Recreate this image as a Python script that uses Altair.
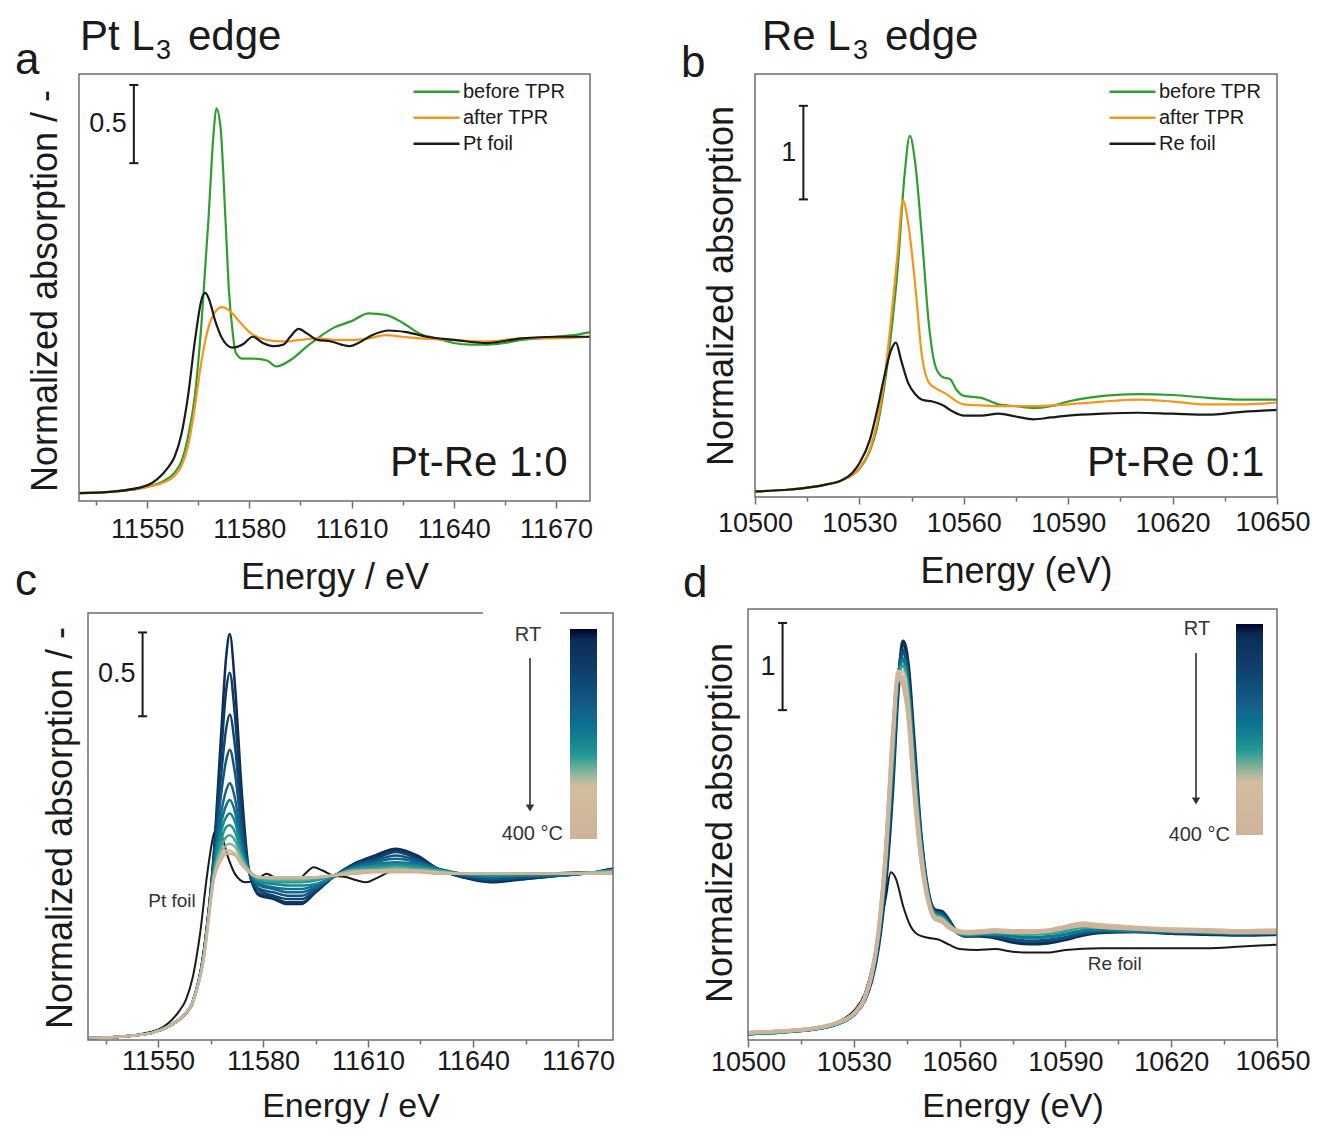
import altair as alt
import pandas as pd

FONT = "Liberation Sans"
INK = "#1a1a1a"
FRAME = "#6e6e6e"
W, H = 1303, 1119

# ------------------------------------------------------------------ data
# (a) Pt L3 edge, Pt-Re 1:0
a_before_E = [11530, 11540, 11550, 11555, 11558, 11560, 11562, 11564, 11566, 11568,
              11569.5, 11570.3, 11571.5, 11573, 11574, 11575, 11576, 11578, 11581, 11585,
              11588, 11592, 11597, 11600, 11605, 11610, 11615, 11620, 11625, 11630,
              11635, 11640, 11645, 11650, 11655, 11660, 11665, 11670, 11675, 11680]
a_before_A = [0.00, 0.01, 0.04, 0.08, 0.13, 0.20, 0.36, 0.62, 1.10, 1.75,
              2.30, 2.46, 2.35, 1.75, 1.30, 1.05, 0.90, 0.86, 0.86, 0.85,
              0.81, 0.85, 0.94, 0.99, 1.06, 1.10, 1.15, 1.14, 1.09, 1.02,
              0.99, 0.96, 0.95, 0.95, 0.96, 0.98, 0.99, 1.00, 1.01, 1.03]
a_after_E = [11530, 11540, 11550, 11555, 11558, 11560, 11562, 11564, 11566, 11568,
             11570, 11572, 11574, 11577, 11580, 11585, 11590, 11595, 11600, 11605,
             11610, 11615, 11620, 11625, 11630, 11640, 11650, 11660, 11670, 11680]
a_after_A = [0.00, 0.01, 0.04, 0.07, 0.11, 0.17, 0.30, 0.55, 0.85, 1.06,
             1.16, 1.19, 1.17, 1.10, 1.03, 0.98, 0.97, 0.98, 0.99, 0.98,
             0.98, 0.99, 1.01, 1.00, 0.99, 0.98, 0.97, 0.99, 0.99, 1.00]
a_foil_E = [11530, 11540, 11550, 11553, 11556, 11558, 11560, 11562, 11564, 11566,
            11567, 11568, 11570, 11572, 11575, 11578, 11581, 11584, 11587, 11590,
            11592, 11594.5, 11597, 11600, 11604, 11607, 11609.5, 11612, 11616, 11621,
            11626, 11632, 11640, 11650, 11660, 11670, 11680]
a_foil_A = [0.00, 0.01, 0.05, 0.09, 0.16, 0.23, 0.37, 0.62, 0.97, 1.24,
            1.28, 1.25, 1.10, 0.99, 0.93, 0.95, 1.00, 0.96, 0.94, 0.95,
            1.00, 1.05, 1.02, 0.98, 0.97, 0.95, 0.94, 0.96, 1.01, 1.04,
            1.03, 1.00, 0.98, 0.96, 0.99, 1.00, 1.00]

# (b) Re L3 edge, Pt-Re 0:1
b_before_E = [10500, 10510, 10520, 10525, 10530, 10533, 10535, 10537, 10539, 10541,
              10543, 10544.5, 10546, 10548, 10550, 10552, 10554, 10556, 10558, 10560,
              10565, 10570, 10575, 10580, 10585, 10590, 10600, 10610, 10620, 10630,
              10640, 10650]
b_before_A = [0.00, 0.02, 0.07, 0.12, 0.24, 0.43, 0.67, 1.08, 1.65, 2.38,
              3.39, 3.80, 3.52, 2.70, 1.77, 1.32, 1.22, 1.20, 1.08, 1.02,
              1.00, 0.93, 0.91, 0.89, 0.91, 0.96, 1.02, 1.04, 1.03, 1.00,
              0.98, 0.98]
b_after_E = [10500, 10510, 10520, 10525, 10530, 10533, 10535, 10537, 10539, 10541,
             10542.5, 10544, 10546, 10548, 10550, 10552, 10555, 10558, 10560, 10565,
             10570, 10575, 10580, 10590, 10600, 10610, 10620, 10630, 10640, 10650]
b_after_A = [0.00, 0.02, 0.07, 0.12, 0.25, 0.45, 0.72, 1.15, 1.80, 2.55,
             3.11, 2.87, 2.22, 1.44, 1.16, 1.10, 1.04, 0.96, 0.93, 0.92,
             0.91, 0.91, 0.91, 0.93, 0.96, 0.98, 0.96, 0.93, 0.93, 0.95]
b_foil_E = [10500, 10510, 10520, 10525, 10528, 10530, 10533, 10535, 10537, 10539,
            10540.5, 10542, 10544, 10546, 10548, 10551, 10554, 10557, 10560, 10565,
            10570, 10575, 10580, 10585, 10590, 10600, 10610, 10620, 10630, 10640,
            10650]
b_foil_A = [0.00, 0.02, 0.07, 0.12, 0.20, 0.30, 0.55, 0.85, 1.20, 1.50,
            1.59, 1.40, 1.16, 1.04, 0.98, 0.96, 0.92, 0.85, 0.81, 0.81,
            0.83, 0.80, 0.77, 0.79, 0.81, 0.83, 0.84, 0.83, 0.82, 0.85,
            0.87]

# (c) Pt L3 edge during TPR, RT -> 400 C
c_E = [11530, 11540, 11548, 11553, 11557, 11560, 11563, 11566, 11568, 11569.5,
       11570.5, 11572, 11574, 11576, 11579, 11583, 11587, 11591, 11595, 11600,
       11606, 11612, 11618, 11624, 11630, 11637, 11645, 11655, 11665, 11675,
       11680]
c_T = [25, 60, 95, 130, 160, 190, 215, 235, 255, 275, 330, 400]
c_curves = [
    [0.00, 0.01, 0.03, 0.07, 0.13, 0.22, 0.50, 1.12, 1.80, 2.28, 2.41, 2.10, 1.45, 1.00, 0.85, 0.83, 0.80, 0.80, 0.87, 0.96, 1.04, 1.09, 1.13, 1.09, 1.01, 0.96, 0.93, 0.95, 0.97, 0.99, 1.01],
    [0.00, 0.01, 0.03, 0.07, 0.13, 0.22, 0.50, 1.10, 1.68, 2.08, 2.18, 1.92, 1.36, 0.99, 0.86, 0.84, 0.81, 0.81, 0.87, 0.96, 1.04, 1.08, 1.12, 1.08, 1.01, 0.96, 0.94, 0.95, 0.97, 0.99, 1.01],
    [0.00, 0.01, 0.03, 0.07, 0.13, 0.22, 0.50, 1.08, 1.56, 1.85, 1.93, 1.74, 1.28, 0.99, 0.88, 0.85, 0.83, 0.83, 0.88, 0.96, 1.03, 1.07, 1.11, 1.07, 1.01, 0.97, 0.94, 0.96, 0.97, 0.99, 1.01],
    [0.00, 0.01, 0.03, 0.07, 0.13, 0.22, 0.50, 1.06, 1.45, 1.66, 1.72, 1.58, 1.22, 1.00, 0.89, 0.87, 0.85, 0.85, 0.89, 0.96, 1.03, 1.06, 1.09, 1.06, 1.01, 0.97, 0.95, 0.96, 0.97, 0.99, 1.00],
    [0.00, 0.01, 0.03, 0.07, 0.13, 0.22, 0.49, 1.04, 1.34, 1.48, 1.52, 1.43, 1.16, 1.00, 0.91, 0.89, 0.87, 0.87, 0.90, 0.96, 1.02, 1.05, 1.07, 1.05, 1.01, 0.97, 0.96, 0.97, 0.97, 0.99, 1.00],
    [0.00, 0.01, 0.03, 0.07, 0.13, 0.22, 0.49, 1.02, 1.28, 1.39, 1.42, 1.35, 1.13, 1.00, 0.92, 0.90, 0.89, 0.89, 0.91, 0.96, 1.02, 1.04, 1.05, 1.04, 1.01, 0.98, 0.96, 0.97, 0.97, 0.99, 1.00],
    [0.00, 0.01, 0.03, 0.07, 0.13, 0.22, 0.49, 1.01, 1.23, 1.32, 1.34, 1.29, 1.11, 1.00, 0.93, 0.92, 0.91, 0.91, 0.92, 0.96, 1.01, 1.03, 1.04, 1.03, 1.00, 0.98, 0.97, 0.97, 0.98, 0.99, 1.00],
    [0.00, 0.01, 0.03, 0.07, 0.13, 0.22, 0.48, 0.99, 1.18, 1.26, 1.27, 1.23, 1.09, 1.00, 0.94, 0.93, 0.93, 0.93, 0.94, 0.97, 1.01, 1.02, 1.03, 1.02, 1.00, 0.98, 0.97, 0.98, 0.98, 0.99, 1.00],
    [0.00, 0.01, 0.03, 0.07, 0.13, 0.22, 0.48, 0.98, 1.14, 1.20, 1.21, 1.18, 1.07, 1.00, 0.95, 0.94, 0.94, 0.94, 0.95, 0.97, 1.00, 1.01, 1.02, 1.01, 1.00, 0.98, 0.98, 0.98, 0.98, 0.99, 1.00],
    [0.00, 0.01, 0.03, 0.07, 0.13, 0.22, 0.47, 0.97, 1.11, 1.15, 1.16, 1.14, 1.06, 1.00, 0.96, 0.95, 0.95, 0.95, 0.96, 0.97, 1.00, 1.00, 1.01, 1.00, 0.99, 0.98, 0.98, 0.98, 0.98, 0.99, 0.99],
    [0.00, 0.01, 0.03, 0.07, 0.13, 0.22, 0.47, 0.96, 1.08, 1.12, 1.12, 1.10, 1.04, 0.99, 0.96, 0.96, 0.96, 0.96, 0.96, 0.97, 0.99, 1.00, 1.00, 1.00, 0.99, 0.98, 0.98, 0.98, 0.98, 0.98, 0.99],
    [0.00, 0.01, 0.03, 0.07, 0.13, 0.22, 0.46, 0.95, 1.06, 1.10, 1.10, 1.09, 1.03, 0.99, 0.96, 0.96, 0.96, 0.96, 0.96, 0.97, 0.98, 0.99, 0.99, 0.99, 0.98, 0.98, 0.98, 0.98, 0.98, 0.98, 0.98],
]
c_foil_E = [11530, 11540, 11550, 11553, 11556, 11558, 11560, 11562, 11564, 11566,
            11567, 11568, 11570, 11572, 11575, 11578, 11581, 11584, 11587, 11590,
            11592, 11594.5, 11597, 11600, 11604, 11607, 11609.5, 11612, 11616, 11621,
            11626, 11632, 11640, 11650, 11660, 11670, 11680]
c_foil_A = [0.00, 0.01, 0.05, 0.09, 0.16, 0.23, 0.37, 0.62, 0.97, 1.22,
            1.25, 1.22, 1.08, 0.98, 0.93, 0.94, 0.98, 0.95, 0.93, 0.94,
            0.98, 1.02, 1.00, 0.97, 0.96, 0.94, 0.93, 0.95, 0.99, 1.02,
            1.01, 0.99, 0.97, 0.96, 0.98, 0.99, 0.99]

# (d) Re L3 edge during TPR, RT -> 400 C
d_E = [10500, 10510, 10520, 10525, 10530, 10533, 10535, 10537, 10539, 10541,
       10542.5, 10544, 10545.5, 10547, 10549, 10551, 10553, 10555, 10557, 10559,
       10562, 10566, 10570, 10575, 10580, 10585, 10590, 10595, 10600, 10610,
       10620, 10630, 10640, 10650]
d_T = [25, 120, 200, 250, 300, 340, 370, 400]
d_curves = [
    [0.00, 0.02, 0.06, 0.11, 0.22, 0.38, 0.60, 1.00, 1.70, 2.80, 3.90, 4.50, 4.20, 3.40, 2.30, 1.65, 1.42, 1.40, 1.30, 1.18, 1.12, 1.12, 1.10, 1.05, 1.03, 1.04, 1.08, 1.13, 1.16, 1.17, 1.15, 1.14, 1.13, 1.14],
    [0.00, 0.02, 0.06, 0.11, 0.22, 0.38, 0.62, 1.05, 1.80, 2.95, 4.00, 4.40, 4.05, 3.25, 2.25, 1.62, 1.40, 1.38, 1.28, 1.17, 1.12, 1.13, 1.12, 1.08, 1.06, 1.07, 1.10, 1.15, 1.17, 1.17, 1.16, 1.15, 1.14, 1.15],
    [0.00, 0.02, 0.06, 0.11, 0.22, 0.39, 0.64, 1.10, 1.90, 3.10, 4.05, 4.30, 3.95, 3.15, 2.20, 1.60, 1.38, 1.35, 1.26, 1.17, 1.13, 1.14, 1.14, 1.12, 1.10, 1.11, 1.14, 1.18, 1.19, 1.18, 1.17, 1.16, 1.15, 1.16],
    [0.00, 0.02, 0.06, 0.11, 0.22, 0.39, 0.65, 1.12, 1.95, 3.20, 4.10, 4.22, 3.85, 3.05, 2.15, 1.58, 1.36, 1.33, 1.25, 1.17, 1.14, 1.15, 1.16, 1.15, 1.14, 1.15, 1.18, 1.22, 1.22, 1.20, 1.18, 1.17, 1.16, 1.17],
    [0.01, 0.03, 0.07, 0.12, 0.23, 0.40, 0.66, 1.15, 2.00, 3.30, 4.15, 4.15, 3.75, 2.95, 2.10, 1.56, 1.34, 1.31, 1.24, 1.18, 1.16, 1.17, 1.18, 1.17, 1.17, 1.18, 1.21, 1.26, 1.25, 1.22, 1.20, 1.19, 1.18, 1.19],
    [0.01, 0.03, 0.07, 0.12, 0.23, 0.40, 0.67, 1.17, 2.05, 3.35, 4.12, 4.08, 3.70, 2.90, 2.05, 1.55, 1.33, 1.30, 1.23, 1.19, 1.17, 1.18, 1.19, 1.18, 1.18, 1.19, 1.23, 1.27, 1.24, 1.21, 1.20, 1.19, 1.18, 1.18],
    [0.01, 0.03, 0.07, 0.12, 0.23, 0.40, 0.67, 1.18, 2.08, 3.40, 4.10, 4.02, 3.62, 2.85, 2.02, 1.53, 1.32, 1.29, 1.22, 1.18, 1.16, 1.17, 1.18, 1.17, 1.17, 1.18, 1.22, 1.25, 1.23, 1.21, 1.19, 1.18, 1.17, 1.17],
    [0.01, 0.03, 0.07, 0.12, 0.23, 0.41, 0.68, 1.20, 2.10, 3.45, 4.08, 3.98, 3.58, 2.80, 2.00, 1.52, 1.31, 1.28, 1.21, 1.17, 1.15, 1.16, 1.17, 1.16, 1.16, 1.17, 1.21, 1.24, 1.22, 1.20, 1.18, 1.17, 1.16, 1.16],
]
d_foil_E = [10500, 10510, 10520, 10525, 10530, 10533, 10535, 10537, 10539, 10540.5,
            10542, 10544, 10546, 10548, 10551, 10554, 10557, 10560, 10565, 10570,
            10575, 10580, 10585, 10590, 10600, 10610, 10620, 10630, 10640, 10650]
d_foil_A = [0.00, 0.03, 0.07, 0.13, 0.26, 0.45, 0.73, 1.14, 1.54, 1.85,
            1.77, 1.46, 1.24, 1.14, 1.10, 1.08, 1.02, 0.97, 0.96, 0.97,
            0.94, 0.93, 0.93, 0.96, 0.98, 0.98, 0.98, 0.98, 1.00, 1.02]

# axes / scale bars (data units)
pt_dom = [11530, 11680]
re_dom = [10500, 10650]
pt_major = [11550, 11580, 11610, 11640, 11670]
pt_minor = [11535, 11565, 11595, 11625, 11655]
re_major = [10500, 10530, 10560, 10590, 10620, 10650]
re_minor = [10515, 10545, 10575, 10605, 10635]
re_last = 10650
ydom = {"a": [-0.05, 2.68], "b": [-0.06, 4.46], "c": [-0.011, 2.536], "d": [-0.073, 4.87]}
bars = {"a": (11546.1, 2.11, 2.61, "0.5"), "b": (10513.9, 3.12, 4.12, "1"),
        "c": (11545.6, 1.92, 2.42, "0.5"), "d": (10509.8, 3.71, 4.71, "1")}

legend_a = ["before TPR", "after TPR", "Pt foil"]
legend_b = ["before TPR", "after TPR", "Re foil"]
series_colors = ["#2e9e2e", "#f7941d", "#1a1a1a"]

# temperature colour scale, listed from 400 C down to RT (so the bar shows RT on top)
fam_dom = [400, 295, 275, 250, 215, 160, 90, 15, 0]
fam_rng = ["#cdb39a", "#d3bd9f", "#8db5a2", "#2fa394", "#1b8290", "#15638c", "#0f426f", "#0b2b52", "#000000"]

# ------------------------------------------------------------------ layout (chart px)
BOX = {
    "a": dict(x0=71, x1=582, ytop=66, ybot=493),
    "b": dict(x0=747, x1=1269, ytop=66, ybot=489),
    "c": dict(x0=80, x1=605, ytop=605, ybot=1032),
    "d": dict(x0=740, x1=1269, ytop=601, ybot=1032),
}
TICK = 7
LABEL_SIZE = 27


def long_df(items):
    rows = []
    for name, E, A in items:
        for e, v in zip(E, A):
            rows.append({"E": e, "A": v, "s": name})
    return pd.DataFrame(rows)


def fam_df(E, T, curves):
    rows = []
    for t, vals in zip(T, curves):
        for e, v in zip(E, vals):
            rows.append({"E": e, "A": v, "T": t, "k": "T%03d" % t})
    return pd.DataFrame(rows)


def scales(key, xdom):
    b = BOX[key]
    xs = alt.Scale(domain=xdom, range=[b["x0"], b["x1"]], nice=False, zero=False)
    ys = alt.Scale(domain=ydom[key], range=[b["ybot"], b["ytop"]], nice=False, zero=False)
    return xs, ys


def major_axis(key, values, title, lpad, tpad, hide_last, tsize):
    expr = "datum.value >= %d ? '' : datum.label" % re_last if hide_last else "datum.label"
    return alt.Axis(orient="bottom", offset=BOX[key]["ybot"] - H, values=values, format="d",
                    tickSize=TICK, tickWidth=1.5, tickColor=FRAME, domain=False, grid=False,
                    labelFont=FONT, labelFontSize=LABEL_SIZE, labelColor=INK, labelPadding=lpad,
                    labelFlush=False, labelOverlap=False, labelExpr=expr,
                    title=title, titleFont=FONT, titleFontSize=tsize, titleFontWeight="normal",
                    titleColor=INK, titlePadding=tpad)


def minor_axis(key, values):
    return alt.Axis(orient="bottom", offset=BOX[key]["ybot"] - H, values=values,
                    tickSize=4, tickWidth=1.5, tickColor=FRAME, domain=False, grid=False,
                    labels=False, title=None)


def frame_layer(key, xdom, xs, ys, minor):
    fr = pd.DataFrame({"E": [xdom[0]], "E2": [xdom[1]], "A": [ydom[key][0]], "A2": [ydom[key][1]]})
    return alt.Chart(fr).mark_rect(fill="white", fillOpacity=0, stroke=FRAME, strokeWidth=1.5).encode(
        x=alt.X("E:Q", scale=xs, axis=minor_axis(key, minor)), x2=alt.X2("E2"),
        y=alt.Y("A:Q", scale=ys, axis=None), y2=alt.Y2("A2"))


def last_label(key, xs, lpad):
    # the last Re tick label sits right at the page edge: nudge it a little inwards
    return alt.Chart(pd.DataFrame({"E": [re_last], "t": [str(re_last)]})).mark_text(
        align="center", baseline="top", dx=-4, font=FONT, fontSize=LABEL_SIZE, color=INK).encode(
        x=alt.X("E:Q", scale=xs, axis=None), y=alt.value(BOX[key]["ybot"] + TICK + lpad), text="t:N")


def bar_layers(key, xs, ys):
    x, y0, y1, lab = bars[key]
    rule = alt.Chart(pd.DataFrame({"E": [x], "A": [y0], "A2": [y1]})).mark_rule(
        color=INK, strokeWidth=2).encode(
        x=alt.X("E:Q", scale=xs, axis=None), y=alt.Y("A:Q", scale=ys, axis=None), y2=alt.Y2("A2"))
    caps = alt.Chart(pd.DataFrame({"E": [x, x], "A": [y0, y1]})).mark_point(
        shape="stroke", size=81, strokeWidth=2, color=INK, opacity=1).encode(
        x=alt.X("E:Q", scale=xs, axis=None), y=alt.Y("A:Q", scale=ys, axis=None))
    txt = alt.Chart(pd.DataFrame({"E": [x], "A": [(y0 + y1) / 2], "t": [lab]})).mark_text(
        align="right", baseline="middle", dx=-7, font=FONT, fontSize=27, color=INK).encode(
        x=alt.X("E:Q", scale=xs, axis=None), y=alt.Y("A:Q", scale=ys, axis=None), text="t:N")
    return [rule, caps, txt]


def data_text(text, x, y, xs, ys, size, align="right", baseline="alphabetic", color=INK):
    return alt.Chart(pd.DataFrame({"E": [x], "A": [y], "t": [text]})).mark_text(
        align=align, baseline=baseline, font=FONT, fontSize=size, color=color).encode(
        x=alt.X("E:Q", scale=xs, axis=None), y=alt.Y("A:Q", scale=ys, axis=None), text="t:N")


def px_text(text, x, y, size, align="left", baseline="alphabetic", color=INK, angle=0):
    return alt.Chart(pd.DataFrame({"t": [text]})).mark_text(
        align=align, baseline=baseline, font=FONT, fontSize=size, color=color, angle=angle).encode(
        x=alt.value(x), y=alt.value(y), text="t:N")


def sample_panel(key, xdom, major, minor, items, names, xtitle, lpad, tpad,
                 leg_x, leg_y, tag, tag_pos, hide_last):
    xs, ys = scales(key, xdom)
    df = long_df(items)
    lines = alt.Chart(df).mark_line(strokeWidth=2.2, strokeJoin="round", interpolate="monotone").encode(
        x=alt.X("E:Q", scale=xs, axis=major_axis(key, major, xtitle, lpad, tpad, hide_last, 36)),
        y=alt.Y("A:Q", scale=ys, axis=None),
        color=alt.Color("s:N", scale=alt.Scale(domain=names, range=series_colors),
                        legend=alt.Legend(orient="none", legendX=leg_x, legendY=leg_y,
                                          direction="vertical", title=None, symbolType="stroke",
                                          symbolSize=2116, symbolStrokeWidth=2.5,
                                          labelFont=FONT, labelFontSize=20, labelColor=INK,
                                          labelOffset=2, clipHeight=25.6, rowPadding=0,
                                          padding=0)),
    )
    layers = [lines] + bar_layers(key, xs, ys) + [
        data_text(tag, tag_pos[0], tag_pos[1], xs, ys, 42),
        frame_layer(key, xdom, xs, ys, minor)]
    if hide_last:
        layers.append(last_label(key, xs, lpad))
    return alt.layer(*layers).resolve_axis(x="independent")


def family_panel(key, xdom, major, minor, E, T, curves, fE, fA, xtitle,
                 lpad, tpad, leg_x, leg_y, leg_len, width, foil_lab, foil_pos, hide_last):
    xs, ys = scales(key, xdom)
    foil = alt.Chart(pd.DataFrame({"E": fE, "A": fA})).mark_line(
        strokeWidth=2, color=INK, interpolate="monotone").encode(
        x=alt.X("E:Q", scale=xs, axis=major_axis(key, major, xtitle, lpad, tpad, hide_last, 34)),
        y=alt.Y("A:Q", scale=ys, axis=None))
    fam = alt.Chart(fam_df(E, T, curves)).mark_line(
        strokeWidth=width, strokeJoin="round", interpolate="monotone").encode(
        x=alt.X("E:Q", scale=xs, axis=None),
        y=alt.Y("A:Q", scale=ys, axis=None),
        detail="k:N",
        color=alt.Color("T:Q", scale=alt.Scale(domain=fam_dom, range=fam_rng),
                        legend=alt.Legend(orient="none", legendX=leg_x, legendY=leg_y,
                                          type="gradient", direction="vertical", title=None,
                                          gradientLength=leg_len, gradientThickness=27,
                                          gradientStrokeWidth=0, labelExpr="''",
                                          labelFontSize=1, padding=0)),
    )
    layers = [foil, fam] + bar_layers(key, xs, ys) + [
        data_text(foil_lab, foil_pos[0], foil_pos[1], xs, ys, 19, align="center",
                  baseline="middle", color="#333333"),
        frame_layer(key, xdom, xs, ys, minor)]
    if hide_last:
        layers.append(last_label(key, xs, lpad))
    return alt.layer(*layers).resolve_axis(x="independent")


pa = sample_panel("a", pt_dom, pt_major, pt_minor,
                  [("before TPR", a_before_E, a_before_A), ("after TPR", a_after_E, a_after_A),
                   ("Pt foil", a_foil_E, a_foil_A)], legend_a,
                  "Energy / eV", 8, 18, 404, 71, "Pt-Re 1:0", (11673.4, 0.11), False)
pb = sample_panel("b", re_dom, re_major, re_minor,
                  [("before TPR", b_before_E, b_before_A), ("after TPR", b_after_E, b_after_A),
                   ("Re foil", b_foil_E, b_foil_A)], legend_b,
                  "Energy (eV)", 6, 18, 1100, 71, "Pt-Re 0:1", (10646.4, 0.16), True)
pc = family_panel("c", pt_dom, pt_major, pt_minor, c_E, c_T, c_curves, c_foil_E, c_foil_A,
                  "Energy / eV", 1, 15, 562, 621, 210, 2.5, "Pt foil", (11554, 0.82), False)
pd_ = family_panel("d", re_dom, re_major, re_minor, d_E, d_T, d_curves, d_foil_E, d_foil_A,
                   "Energy (eV)", 2, 14, 1228, 616, 211, 3.5, "Re foil", (10604, 0.80), True)


def arrow(x, y0, y1):
    base = alt.Chart(pd.DataFrame({"k": [0]}))
    r = base.mark_rule(color="#333333", strokeWidth=1.6).encode(
        x=alt.value(x), y=alt.value(y0), y2=alt.value(y1 - 4))
    h = base.mark_point(shape="triangle-down", filled=True, size=70, color="#333333",
                        opacity=1).encode(x=alt.value(x), y=alt.value(y1 - 4))
    return [r, h]


# white box behind the colour-bar key in (c) interrupts the frame's top edge
gap_c = alt.Chart(pd.DataFrame({"k": [0]})).mark_rule(color="white", strokeWidth=4).encode(
    x=alt.value(475), x2=alt.value(552), y=alt.value(BOX["c"]["ytop"]))

annot = [
    gap_c,
    px_text("a", 7, 66, 44), px_text("b", 673, 69, 44),
    px_text("c", 7, 587, 44), px_text("d", 675, 589, 44),
    px_text("Pt L", 72, 42, 42), px_text("3", 148, 51, 27), px_text("edge", 180, 42, 42),
    px_text("Re L", 754, 42, 42), px_text("3", 845, 51, 27), px_text("edge", 877, 42, 42),
    # y-axis titles
    px_text("Normalized absorption / -", 38, 283, 36, align="center", baseline="middle", angle=270),
    px_text("Normalized absorption", 714, 278, 36, align="center", baseline="middle", angle=270),
    px_text("Normalized absorption / -", 53, 820, 36, align="center", baseline="middle", angle=270),
    px_text("Normalized absorption", 713, 815, 36, align="center", baseline="middle", angle=270),
    # temperature bar annotations
    px_text("RT", 520, 627, 20, align="center", baseline="middle", color="#333333"),
    px_text("400 °C", 555, 826, 20, align="right", baseline="middle", color="#333333"),
    px_text("RT", 1189, 621, 20, align="center", baseline="middle", color="#333333"),
    px_text("400 °C", 1222, 827, 20, align="right", baseline="middle", color="#333333"),
] + arrow(522, 650, 804) + arrow(1188, 645, 797)

chart = alt.layer(pa, pb, pc, pd_, *annot).resolve_scale(
    x="independent", y="independent", color="independent"
).properties(
    width=W, height=H, autosize=alt.AutoSizeParams(type="none"), padding=0
).configure_view(stroke=None)

chart.save("out.html", embed_options={"renderer": "svg", "actions": False})
